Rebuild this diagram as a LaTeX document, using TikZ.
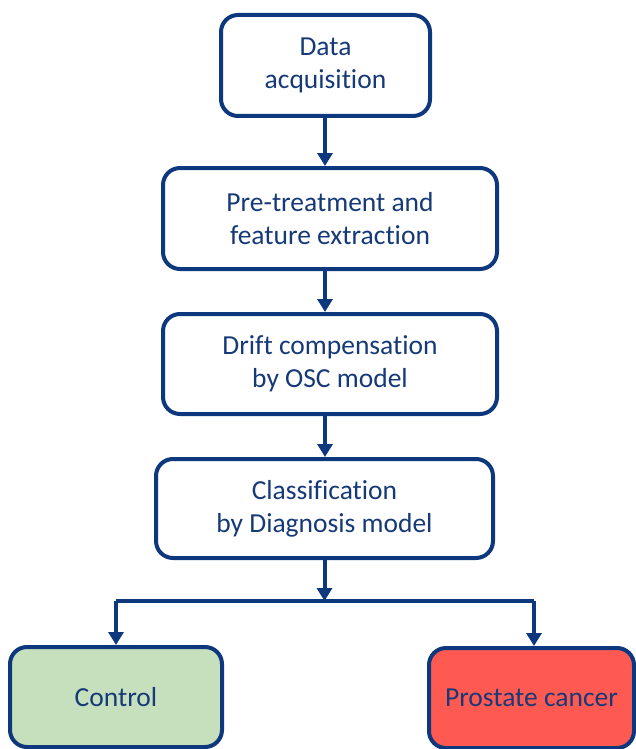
\documentclass[tikz,border=0pt]{standalone}
\usepackage{fontspec}
\setmainfont[Ligatures=NoCommon]{Carlito}
\usetikzlibrary{arrows.meta,positioning}
\definecolor{navy}{RGB}{14,56,126}
\definecolor{txtblue}{RGB}{22,58,120}
\definecolor{ctrlgreen}{RGB}{198,224,190}
\definecolor{cancerred}{RGB}{255,90,82}
\begin{document}
\begin{tikzpicture}[x=1pt,y=1pt,
  box/.style={draw=navy, line width=4pt, rounded corners=17pt, fill=white,
    text=txtblue, align=center, inner sep=0pt,
    font=\fontsize{27.5}{33}\selectfont},
  conn/.style={draw=navy, line width=4pt, -{Triangle[width=15pt,length=13pt]}},
  plain/.style={draw=navy, line width=4pt}]
\useasboundingbox (0,0) rectangle (635,-749);
\node[box, minimum width=209pt, minimum height=101pt] (b1) at (325.5,-65.5) {Data\\acquisition};
\node[box, minimum width=334pt, minimum height=101pt] (b2) at (330,-218.5) {Pre-treatment and\\feature extraction};
\node[box, minimum width=334pt, minimum height=100pt] (b3) at (330,-364) {Drift compensation\\by OSC model};
\node[box, minimum width=337pt, minimum height=99pt] (b4) at (324.5,-508.5) {Classification\\by Diagnosis model};
\node[box, fill=ctrlgreen, minimum width=212pt, minimum height=100pt] (ctl) at (116,-697) {Control};
\node[box, fill=cancerred, minimum width=205pt, minimum height=100pt] (pc) at (531.5,-698) {Prostate cancer};
\coordinate (j) at (324.5,-601);
\coordinate (jl) at (116,-601);
\coordinate (jr) at (534,-601);
\draw[conn] (b1.south -| 325,0) -- (325,-168 |- b2.north);
\draw[conn] (b2.south -| 325,0) -- (325,-168 |- b3.north);
\draw[conn] (b3.south -| 325,0) -- (325,-168 |- b4.north);
\draw[conn] (b4.south -| j) -- (j);
\draw[plain] (jl) -- (jr);
\draw[conn] (jl) -- (ctl.north);
\draw[conn] (jr) -- (jr |- pc.north);
\end{tikzpicture}
\end{document}
